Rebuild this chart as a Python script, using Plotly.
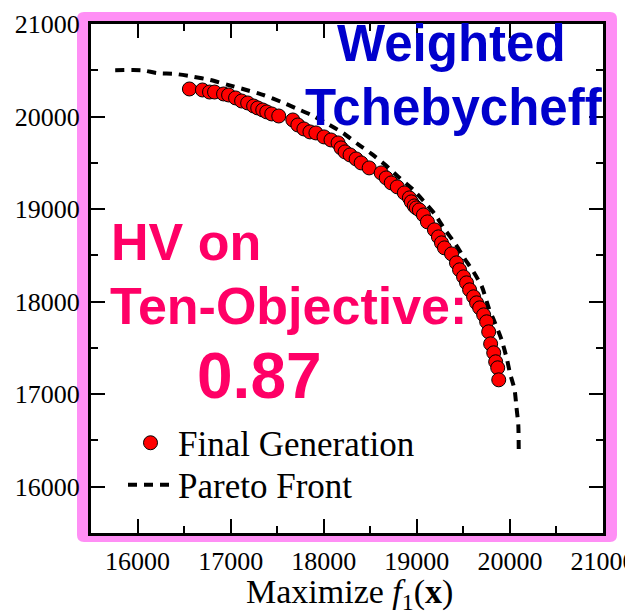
import plotly.graph_objects as go

# ---- data ----
final_f1 = [16557, 16697, 16773, 16827, 16924, 16978, 17053, 17118, 17183, 17247,
            17291, 17345, 17388, 17442, 17517, 17668, 17722, 17787, 17852, 17916,
            18003, 18078, 18154, 18186, 18229, 18283, 18348, 18402, 18488, 18617,
            18671, 18725, 18790, 18866, 18920, 18941, 18973, 18995, 19027, 19071,
            19114, 19189, 19232, 19265, 19297, 19373, 19426, 19459, 19502, 19534,
            19567, 19610, 19642, 19675, 19718, 19750, 19772, 19793, 19826, 19847,
            19869, 19880]
final_f2 = [20298, 20287, 20265, 20265, 20244, 20233, 20201, 20168, 20147, 20114,
            20093, 20071, 20050, 20028, 20006, 19963, 19909, 19866, 19834, 19823,
            19780, 19747, 19715, 19661, 19618, 19585, 19542, 19499, 19445, 19391,
            19337, 19283, 19240, 19175, 19121, 19078, 19034, 19013, 18991, 18937,
            18862, 18776, 18700, 18635, 18581, 18516, 18419, 18344, 18268, 18203,
            18128, 18052, 17987, 17933, 17857, 17782, 17674, 17544, 17447, 17350,
            17285, 17155]

pareto_f1 = [15760, 16050, 16210, 16410, 16600, 16780, 16980, 17160, 17360, 17540,
             17700, 17860, 18060, 18210, 18370, 18510, 18670, 18800, 18960, 19070,
             19190, 19300, 19410, 19510, 19610, 19700, 19770, 19840, 19910, 19970,
             20000, 20050, 20070, 20090, 20095]
pareto_f2 = [20500, 20500, 20470, 20460, 20430, 20395, 20340, 20290, 20230, 20160,
             20090, 20020, 19910, 19820, 19700, 19600, 19470, 19350, 19210, 19090,
             18950, 18780, 18630, 18470, 18320, 18160, 17940, 17770, 17590, 17370,
             17230, 17050, 16860, 16670, 16370]

tick_vals = [16000, 17000, 18000, 19000, 20000, 21000]
tick_text = ["16000", "17000", "18000", "19000", "20000", "21000"]

# ---- geometry (window pixels -> paper); page body has an 8px margin ----
OFF = 8
W, H = 633 - OFF, 616 - OFF
L, R, T, B = 91 - OFF, 30, 24 - OFF, 83
PW, PH = W - L - R, H - T - B

def px(x):
    return (x - OFF - L) / PW

def py(y):
    return (H - B - (y - OFF)) / PH

SERIF = "Liberation Serif"
SANS = "Liberation Sans"

fig = go.Figure()
fig.add_trace(go.Scatter(
    x=pareto_f1, y=pareto_f2, mode="lines", name="Pareto Front",
    line=dict(color="black", width=4, dash="9px,7px", shape="spline", smoothing=0.6),
    legend="legend2"))
fig.add_trace(go.Scatter(
    x=final_f1, y=final_f2, mode="markers", name="Final Generation",
    marker=dict(color="#FF0000", size=14, line=dict(color="black", width=1)),
    legend="legend"))

axis_common = dict(
    range=[15500, 21000], tickvals=tick_vals, ticktext=tick_text,
    ticks="inside", ticklen=14, tickwidth=2, tickcolor="black",
    showline=True, linewidth=3, linecolor="black", mirror="ticks",
    showgrid=False, zeroline=False, automargin=False,
    ticklabeloverflow="allow",
    tickfont=dict(family=SERIF, size=26, color="black"),
    minor=dict(dtick=500, tick0=15500, ticks="inside", ticklen=7, tickwidth=2,
               tickcolor="black", showgrid=False),
)
xaxis = dict(axis_common, ticklabelstandoff=3)
yaxis = dict(axis_common, ticklabelstandoff=3)

# pink frame: outer rounded rect with inner hole at plot area
ox0, ox1 = px(77), px(617)
oy0, oy1 = py(542), py(12)
rx, ry = 7 / PW, 7 / PH
frame = (f"M{ox0+rx},{oy1} L{ox1-rx},{oy1} Q{ox1},{oy1} {ox1},{oy1-ry} "
         f"L{ox1},{oy0+ry} Q{ox1},{oy0} {ox1-rx},{oy0} L{ox0+rx},{oy0} "
         f"Q{ox0},{oy0} {ox0},{oy0+ry} L{ox0},{oy1-ry} Q{ox0},{oy1} {ox0+rx},{oy1} Z "
         f"M0,0 L0,1 L1,1 L1,0 Z")
fig.add_shape(type="path", path=frame, xref="paper", yref="paper",
              fillcolor="#FF8FF5", line=dict(width=0), layer="below")

ann = [
    dict(text="<b>Weighted</b>", x=px(451), y=py(44), font=dict(family=SANS, size=51, color="#0000CC"), xanchor="center"),
    dict(text="<b>Tchebycheff</b>", x=px(454), y=py(108), font=dict(family=SANS, size=51, color="#0000CC"), xanchor="center"),
    dict(text="<b>HV on</b>", x=px(109), y=py(242), font=dict(family=SANS, size=52, color="#FF0066"), xanchor="left"),
    dict(text="<b>Ten-Objective:</b>", x=px(108), y=py(306), font=dict(family=SANS, size=52, color="#FF0066"), xanchor="left"),
    dict(text="<b>0.87</b>", x=px(195), y=py(376), font=dict(family=SANS, size=64, color="#FF0066"), xanchor="left"),
    dict(text="Maximize <i>f</i><sub>1</sub>(<b>x</b>)", x=px(349), y=py(594),
         font=dict(family=SERIF, size=34, color="black"), xanchor="center"),
]
for a in ann:
    fig.add_annotation(xref="paper", yref="paper", showarrow=False, yanchor="middle", **a)

legend_common = dict(font=dict(family=SERIF, size=35, color="black"),
                     bgcolor="rgba(0,0,0,0)", borderwidth=0, itemwidth=45,
                     xanchor="left", yanchor="middle")
fig.update_layout(
    width=W, height=H,
    margin=dict(l=L, r=R, t=T, b=B, pad=0, autoexpand=False),
    paper_bgcolor="white", plot_bgcolor="white",
    showlegend=True,
    xaxis=xaxis, yaxis=yaxis,
    legend=dict(x=px(123), y=py(443), **legend_common),
    legend2=dict(x=px(123), y=py(485), **legend_common),
)

fig.write_html("out.html")
